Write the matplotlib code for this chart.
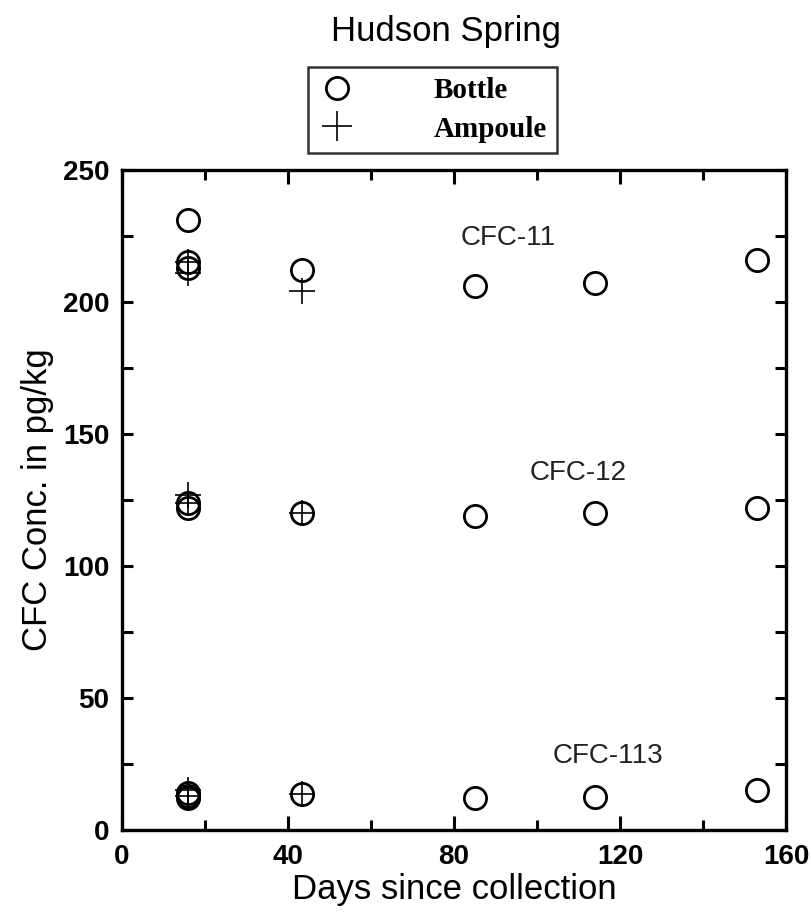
import matplotlib
matplotlib.use("Agg")
import matplotlib.pyplot as plt
from matplotlib.ticker import MultipleLocator
from matplotlib.lines import Line2D

plt.rcParams['font.family'] = ['Liberation Sans', 'DejaVu Sans']

# bottle samples (days since collection, concentration pg/kg)
bottle_days_11 = [16, 16, 16, 43.5, 85, 114, 153]
bottle_cfc11 = [231, 215, 213, 212, 206, 207, 216]
bottle_days_12 = [16, 16, 43.5, 85, 114, 153]
bottle_cfc12 = [124, 122, 120, 119, 120, 122]
bottle_days_113 = [16, 16, 16, 43.5, 85, 114, 153]
bottle_cfc113 = [14, 13, 12, 13.5, 12, 12.5, 15]

# ampoule samples
amp_days_11 = [16, 16, 43.5]
amp_cfc11 = [215, 211, 204]
amp_days_12 = [16, 16, 43.5]
amp_cfc12 = [127, 124, 120]
amp_days_113 = [16, 16, 43.5]
amp_cfc113 = [15, 13, 13.5]

compound_labels = ['CFC-11', 'CFC-12', 'CFC-113']
label_x = [93, 110, 117]
label_y = [224, 135, 28]

fig = plt.figure(figsize=(8.12, 9.13), dpi=100)
ax = fig.add_axes([0.150, 0.091, 0.818, 0.723])

circ = dict(marker='o', markersize=16, markerfacecolor='none',
            markeredgecolor='black', markeredgewidth=2.0, linestyle='none')
plus = dict(marker='+', markersize=19, color='black',
            markeredgewidth=1.2, linestyle='none')

for d, v in [(bottle_days_11, bottle_cfc11), (bottle_days_12, bottle_cfc12),
             (bottle_days_113, bottle_cfc113)]:
    ax.plot(d, v, **circ)
for d, v in [(amp_days_11, amp_cfc11), (amp_days_12, amp_cfc12),
             (amp_days_113, amp_cfc113)]:
    ax.plot(d, v, **plus)

for lab, x, y in zip(compound_labels, label_x, label_y):
    ax.text(x, y, lab, fontsize=20, ha='center', va='center', color='#222222')

ax.set_xlim(0, 160)
ax.set_ylim(0, 250)
ax.xaxis.set_major_locator(MultipleLocator(40))
ax.xaxis.set_minor_locator(MultipleLocator(20))
ax.yaxis.set_major_locator(MultipleLocator(50))
ax.yaxis.set_minor_locator(MultipleLocator(25))
ax.tick_params(which='both', direction='in', top=True, right=True, width=2.2)
ax.tick_params(axis='x', which='major', length=10, labelsize=20, pad=10)
ax.tick_params(axis='x', which='minor', length=7)
ax.tick_params(axis='y', which='both', length=8)
ax.tick_params(axis='y', which='major', labelsize=20, pad=9)
for lbl in ax.get_xticklabels() + ax.get_yticklabels():
    lbl.set_fontweight('bold')
for sp in ax.spines.values():
    sp.set_linewidth(2.4)

ax.set_xlabel('Days since collection', fontsize=25, labelpad=2)
ax.set_ylabel('CFC Conc. in pg/kg', fontsize=25, labelpad=6)

fig.text(0.549, 0.965, 'Hudson Spring', fontsize=25, ha='center', va='center')

# legend handles: plus drawn a bit larger to read clearly in the box
leg_plus = dict(plus, markersize=22)
handles = [Line2D([], [], **circ), Line2D([], [], **leg_plus)]
leg = fig.legend(handles, ['Bottle', 'Ampoule'], loc='center',
                 bbox_to_anchor=(0.533, 0.8795), frameon=True, fancybox=False,
                 edgecolor='black', handletextpad=2.7, borderpad=0.35,
                 labelspacing=0.38, handlelength=1.25, borderaxespad=0,
                 prop={'family': 'Liberation Serif', 'weight': 'bold', 'size': 21})
leg.get_frame().set_linewidth(1.8)

fig.savefig('out.png', dpi=100)
